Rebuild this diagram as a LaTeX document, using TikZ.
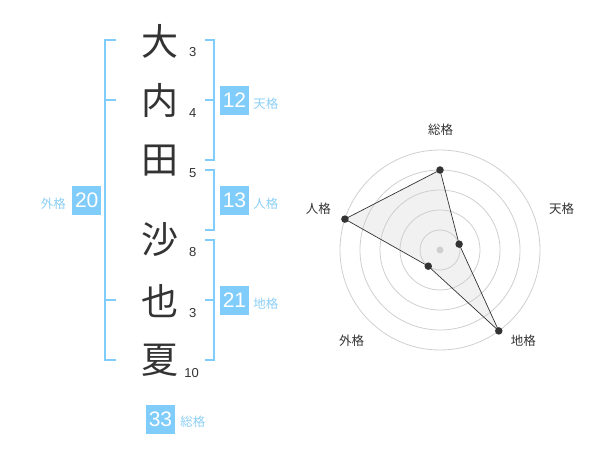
\documentclass[tikz,border=0pt]{standalone}
\usepackage{fontspec}
\setmainfont{Noto Sans CJK JP}
\newfontfamily\digitfont{Liberation Sans}
\usetikzlibrary{positioning}
\definecolor{kakublue}{HTML}{80CCFA}
\definecolor{labelblue}{HTML}{8CCFF5}
\definecolor{inkgray}{HTML}{333333}
\definecolor{ringgray}{HTML}{CFCFCF}
\definecolor{webfill}{HTML}{F1F1F1}

\begin{document}
\begin{tikzpicture}[x=1pt,y=-1pt,
  moji/.style={text=inkgray,font=\fontsize{37}{37}\selectfont,inner sep=0},
  kakusu/.style={text=inkgray,font=\digitfont\fontsize{13}{13}\selectfont,inner sep=0},
  brace/.style={draw=kakublue,line width=2pt},
  kakubox/.style={fill=kakublue,text=white,minimum size=29pt,inner sep=0,font=\digitfont\fontsize{21}{21}\selectfont},
  kakuname/.style={text=labelblue,inner sep=0,font=\fontsize{12.5}{12.5}\selectfont},
  ring/.style={draw=ringgray,line width=0.8pt},
  axisname/.style={text=inkgray,inner sep=0,font=\fontsize{12.5}{12.5}\selectfont},
  dot/.style={circle,fill=inkgray,inner sep=0,minimum size=7.5pt}]

\useasboundingbox (0,0) rectangle (600,470);

% name and strokes
\node[moji] (A) at (160,41) {大};
\node[moji] (B) at (160,100) {内};
\node[moji] (C) at (160,161) {田};
\node[moji] (D) at (160,240) {沙};
\node[moji] (E) at (160,301) {也};
\node[moji] (F) at (160,360) {夏};
\node[kakusu] (nA) at (192.7,52.3) {3};
\node[kakusu] (nB) at (192.7,113.3) {4};
\node[kakusu] (nC) at (192.7,172.7) {5};
\node[kakusu] (nD) at (192.7,252.3) {8};
\node[kakusu] (nE) at (192.7,313.3) {3};
\node[kakusu] (nF) at (191.7,372.7) {10};

% brackets
\draw[brace] (116,40) -- (105,40) -- (105,360) -- (116,360);
\draw[brace] (105,100) -- (116,100);
\draw[brace] (105,300) -- (116,300);
\draw[brace] (205,40) -- (214,40) -- (214,160) -- (205,160);
\draw[brace] (205,100) -- (214,100);
\draw[brace] (205,170) -- (214,170) -- (214,230) -- (205,230);
\draw[brace] (205,240) -- (214,240) -- (214,360) -- (205,360);
\draw[brace] (205,300) -- (214,300);

% totals
\node[kakubox] (ten) at (234.5,100.5) {12};
\node[kakuname,right=4pt of ten,yshift=-3pt] (tenL) {天格};
\node[kakubox] (jin) at (234.5,200.5) {13};
\node[kakuname,right=4pt of jin,yshift=-3pt] (jinL) {人格};
\node[kakubox] (chi) at (234.5,300.5) {21};
\node[kakuname,right=4pt of chi,yshift=-3pt] (chiL) {地格};
\node[kakubox] (gai) at (86.7,200.5) {20};
\node[kakuname,left=6pt of gai,yshift=-3pt] (gaiL) {外格};
\node[kakubox] (sou) at (160.5,419) {33};
\node[kakuname,right=5pt of sou,yshift=-3pt] (souL) {総格};

% radar
\begin{scope}[shift={(440,250)},yscale=-1]
  \coordinate (pS) at (90:80);
  \coordinate (pT) at (17:20);
  \coordinate (pC) at (-54:100);
  \coordinate (pG) at (-126:20);
  \coordinate (pJ) at (162:100);
  \fill[webfill] (pS) -- (pT) -- (pC) -- (pG) -- (pJ) -- cycle;
  \foreach \r in {20,40,60,80,100}
    \draw[ring] (0,0) circle (\r pt);
  \fill[ringgray] (0,0) circle (3.5pt);
  \draw[inkgray,line width=0.7pt] (pS) -- (pT) -- (pC) -- (pG) -- (pJ) -- cycle;
  \node[dot] (dS) at (pS) {};
  \node[dot] (dT) at (pT) {};
  \node[dot] (dC) at (pC) {};
  \node[dot] (dG) at (pG) {};
  \node[dot] (dJ) at (pJ) {};
  \node[axisname] (aS) at (0.7,120) {総格};
  \node[axisname] (aT) at (121.7,41.7) {天格};
  \node[axisname] (aC) at (83.3,-90.7) {地格};
  \node[axisname] (aG) at (-88.3,-90.7) {外格};
  \node[axisname] (aJ) at (-121.7,41.7) {人格};
\end{scope}
\end{tikzpicture}
\end{document}
